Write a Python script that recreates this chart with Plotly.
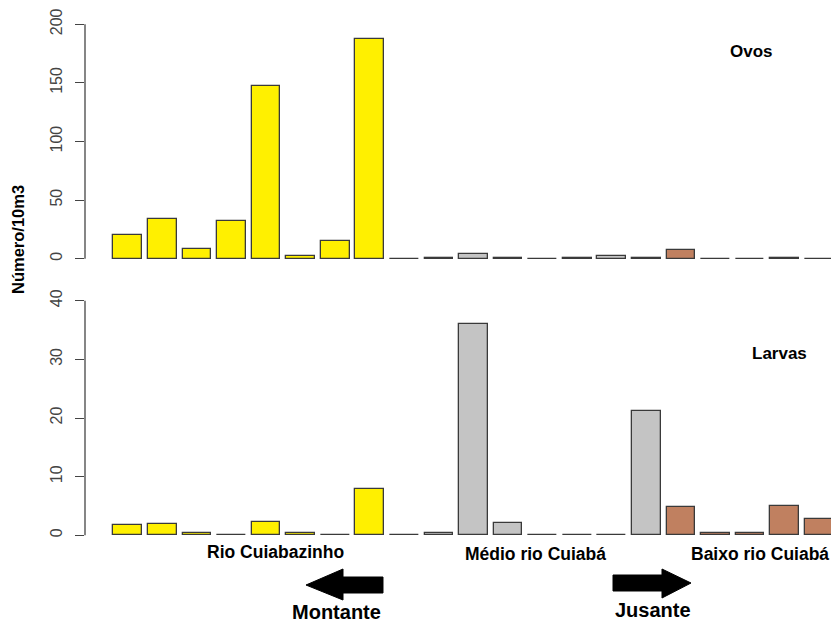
import plotly.graph_objects as go

W, H = 831, 625

# Sampling stations, upstream to downstream
stations = list(range(21))
region = ["Rio Cuiabazinho"] * 8 + ["Médio rio Cuiabá"] * 8 + ["Baixo rio Cuiabá"] * 5

# Density (number per 10 m3)
ovos = [19.9, 33.9, 8.5, 32.2, 147.6, 2.0, 15.4, 187.2,
        0.0, 0.3, 3.7, 0.3, 0.0, 0.3, 2.0, 0.3,
        7.7, 0.0, 0.0, 0.3, 0.0]
larvas = [1.7, 1.9, 0.35, 0.1, 2.27, 0.35, 0.1, 7.9,
          0.1, 0.35, 36.1, 2.1, 0.1, 0.1, 0.1, 21.25,
          4.9, 0.35, 0.35, 5.05, 2.8]

ticks_ovos = [0, 50, 100, 150, 200]
ticks_larvas = [0, 10, 20, 30, 40]

region_colors = {
    "Rio Cuiabazinho": "#FFF000",
    "Médio rio Cuiabá": "#C4C4C4",
    "Baixo rio Cuiabá": "#C08060",
}
bar_colors = [region_colors[r] for r in region]

FONT = "Liberation Sans, Arial, sans-serif"


def px_x(p):
    return p / W


def px_y(p):
    return 1 - p / H


# pixel geometry of the two panels
x_left_px = 85
bar0_center_px = 127.8
spacing_px = 34.57
x_range = [(x_left_px - bar0_center_px) / spacing_px, (W - bar0_center_px) / spacing_px]

top_zero, top_scale = 258.7, 234.4 / 200
top_pix = (5, 270)
top_range = [(top_zero - top_pix[1]) / top_scale, (top_zero - top_pix[0]) / top_scale]

bot_zero, bot_scale = 535.3, 234.6 / 40
bot_pix = (290, 545)
bot_range = [(bot_zero - bot_pix[1]) / bot_scale, (bot_zero - bot_pix[0]) / bot_scale]

fig = go.Figure()

bar_line = dict(color="#3a3a3a", width=1.3)
fig.add_trace(go.Bar(x=stations, y=ovos, width=0.833, marker=dict(color=bar_colors, line=bar_line),
                     xaxis="x", yaxis="y", showlegend=False))
fig.add_trace(go.Bar(x=stations, y=larvas, width=0.833, marker=dict(color=bar_colors, line=bar_line),
                     xaxis="x2", yaxis="y2", showlegend=False))

axis_common = dict(showgrid=False, zeroline=False, showline=False)
tick_font = dict(family=FONT, size=16, color="#444444")

fig.update_layout(
    width=W, height=H,
    margin=dict(l=0, r=0, t=0, b=0),
    paper_bgcolor="white", plot_bgcolor="white",
    bargap=0,
    xaxis=dict(domain=[px_x(x_left_px), 1], range=x_range, visible=False, **axis_common),
    xaxis2=dict(domain=[px_x(x_left_px), 1], range=x_range, visible=False, anchor="y2", **axis_common),
    yaxis=dict(domain=[px_y(top_pix[1]), px_y(top_pix[0])], range=top_range,
               tickmode="array", tickvals=ticks_ovos, ticktext=[str(t) for t in ticks_ovos],
               ticks="outside", ticklen=9, tickwidth=1.3, tickcolor="#444444",
               ticklabelstandoff=7,
               tickangle=-90, tickfont=tick_font, anchor="x", **axis_common),
    yaxis2=dict(domain=[px_y(bot_pix[1]), px_y(bot_pix[0])], range=bot_range,
                tickmode="array", tickvals=ticks_larvas, ticktext=[str(t) for t in ticks_larvas],
                ticks="outside", ticklen=9, tickwidth=1.3, tickcolor="#444444",
                ticklabelstandoff=7,
                tickangle=-90, tickfont=tick_font, anchor="x2", **axis_common),
    font=dict(family=FONT),
)

# axis lines spanning only the tick range
for yref, tv in (("y", ticks_ovos), ("y2", ticks_larvas)):
    fig.add_shape(type="line", xref="paper", yref=yref,
                  x0=px_x(x_left_px), x1=px_x(x_left_px), y0=tv[0], y1=tv[-1],
                  line=dict(color="#444444", width=1.3))


def label(text, xp, yp, size=14, angle=0):
    fig.add_annotation(text=f"<b>{text}</b>", x=px_x(xp), y=px_y(yp), xref="paper", yref="paper",
                       showarrow=False, xanchor="center", yanchor="middle", textangle=angle,
                       font=dict(family=FONT, size=size, color="black"))


label("Ovos", 751, 51, 17)
label("Larvas", 779, 353, 17)
label("Número/10m3", 18, 240, 16.5, angle=-90)
label("Rio Cuiabazinho", 275, 552, 17.5)
label("Médio rio Cuiabá", 535, 554, 17.5)
label("Baixo rio Cuiabá", 760, 554, 17.5)
label("Montante", 336, 612, 20)
label("Jusante", 653, 610, 20)


def arrow_path(points):
    pts = [f"{px_x(x):.5f},{px_y(y):.5f}" for x, y in points]
    return "M " + " L ".join(pts) + " Z"


# upstream arrow (pointing left)
fig.add_shape(type="path", xref="paper", yref="paper",
              path=arrow_path([(306, 585), (343, 569), (343, 577), (383, 577),
                               (383, 593), (343, 593), (343, 600)]),
              fillcolor="black", line=dict(color="black", width=1))
# downstream arrow (pointing right)
fig.add_shape(type="path", xref="paper", yref="paper",
              path=arrow_path([(691, 583), (662, 569), (662, 575), (613, 575),
                               (613, 591), (662, 591), (662, 598)]),
              fillcolor="black", line=dict(color="black", width=1))

fig.write_html("out.html")
